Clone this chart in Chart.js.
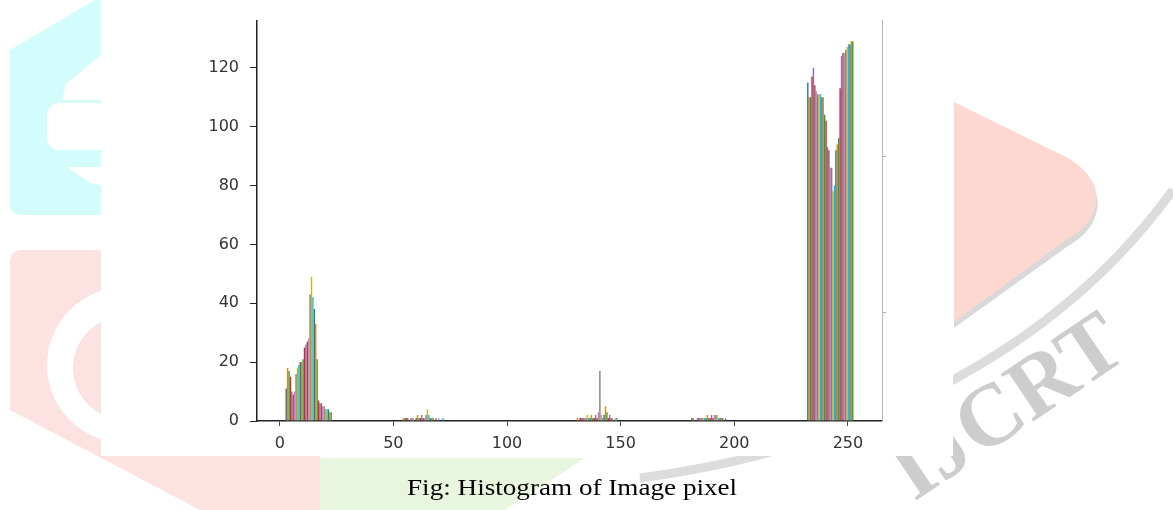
<!DOCTYPE html>
<html>
<head>
<meta charset="utf-8">
<script src="https://cdn.jsdelivr.net/npm/chart.js@4.4.1/dist/chart.umd.min.js"></script>
<style>
  html, body { margin: 0; padding: 0; background: #fff; }
  #wrap { position: relative; width: 1173px; height: 510px; overflow: hidden; }
  #bg, #chart { position: absolute; left: 0; top: 0; }
  #caption {
    position: absolute; left: 407px; top: 476px;
    font-family: "Liberation Serif", serif; font-size: 23px; line-height: 23px;
    color: #000; white-space: nowrap;
    transform: scaleX(1.18); transform-origin: left top;
  }
</style>
</head>
<body>
<div id="wrap">
  <svg id="bg" width="1173" height="510" xmlns="http://www.w3.org/2000/svg">
    <!-- watermark behind the figure -->
    <path d="M10 50 L95 0 L101 0 L101 215 L22 215 Q10 215 10 203 Z" fill="#d3fcfd"/>
    <path d="M101 55 L66 84 L62 100 L101 100 Z" fill="#fff"/>
    <rect x="47" y="103" width="70" height="47" rx="12" fill="#fff"/>
    <path d="M67 167 L101 167 L101 185 L90 183 Z" fill="#fff"/>
    <path d="M10 262 Q10 250 22 250 L320 250 L320 510 L200 510 L10 410 Z" fill="#fde2e2"/>
    <circle cx="125" cy="365" r="78" fill="#fff"/>
    <circle cx="125" cy="368" r="52" fill="#fde2e2"/>
    <path d="M320 458 L585 458 L505 510 L320 510 Z" fill="#e9f6df"/>
    <path d="M954 108 L1070 165 Q1102 185 1097 210 Q1093 232 1068 246 L954 328 Z" fill="#d9d9d9"/>
    <path d="M954 102 L1068 158 Q1100 178 1096 203 Q1092 226 1066 240 L954 322 Z" fill="#fdd8d1"/>
    <path d="M640 478 C 850 450, 1050 360, 1173 190" stroke="#dcdcdc" stroke-width="9" fill="none"/>
    <text transform="translate(914 502) rotate(-34)" font-family="Liberation Serif" font-weight="bold" font-size="88" fill="#cdcdcd">IJCRT</text>
    <rect x="101" y="0" width="852" height="456" fill="#fff"/>
  </svg>
  <canvas id="chart" width="1173" height="510"></canvas>
  <div id="caption">Fig: Histogram of Image pixel</div>
</div>
<script>
const binEdges = [0, 25.5, 51, 76.5, 102, 127.5, 153, 178.5, 204, 229.5, 255];
const xTicks = [0, 50, 100, 150, 200, 250];
const yTicks = [0, 20, 40, 60, 80, 100, 120];
const rightTicks = [37, 90];

// counts per image column (33 columns) for the non-empty bins
const darkCounts = [11, 18, 17, 15, 10, 9, 10, 16, 18, 19, 20, 20, 21, 25, 26, 27, 28, 43, 49, 42, 38, 33, 21, 7, 6, 6, 5, 5, 4, 4, 4, 3, 3];
const lowMidCounts = [0, 1, 1, 1, 1, 0, 1, 1, 1, 0, 1, 2, 1, 1, 2, 1, 1, 2, 4, 2, 1, 1, 1, 0, 1, 0, 1, 0, 0, 1, 0, 0, 0];
const midCounts = [0, 1, 0, 1, 1, 1, 1, 1, 2, 1, 1, 2, 1, 1, 2, 1, 3, 17, 2, 1, 2, 5, 3, 1, 2, 1, 1, 0, 1, 1, 0, 0, 0];
const highMidCounts = [1, 1, 0, 0, 1, 1, 1, 1, 1, 1, 1, 2, 1, 1, 2, 1, 2, 2, 2, 1, 1, 1, 1, 0, 1, 0, 0, 0, 0, 0, 0, 0, 0];
const brightCounts = [115, 110, 110, 117, 120, 114, 112, 111, 111, 111, 110, 110, 104, 102, 93, 92, 86, 86, 78, 80, 92, 94, 96, 113, 124, 125, 125, 126, 127, 128, 128, 129, 129];

const countsByBin = [darkCounts, null, lowMidCounts, null, null, midCounts, null, highMidCounts, null, brightCounts];

const tab10 = ["#1f77b4", "#ff7f0e", "#2ca02c", "#d62728", "#9467bd",
  "#8c564b", "#e377c2", "#7f7f7f", "#bcbd22", "#17becf"];

const binCenters = binEdges.slice(0, -1).map((e, b) => (e + binEdges[b + 1]) / 2);

const datasets = [];
for (let j = 0; j < darkCounts.length; j++) {
  datasets.push({
    data: binCenters.map((c, b) => ({ x: c, y: countsByBin[b] ? countsByBin[b][j] : 0 })),
    backgroundColor: tab10[j % 10],
    borderWidth: 0,
    barPercentage: 1,
    categoryPercentage: 0.8,
  });
}

const tickFont = { family: "DejaVu Sans", size: 16 };

new Chart(document.getElementById("chart"), {
  type: "bar",
  data: { datasets: datasets },
  options: {
    responsive: false,
    animation: false,
    devicePixelRatio: 1,
    layout: { padding: { left: 197, right: 281, top: 16, bottom: 49 } },
    plugins: { legend: { display: false }, tooltip: { enabled: false } },
    scales: {
      x: {
        type: "linear",
        min: -10,
        max: 265,
        offset: false,
        afterBuildTicks: (s) => { s.ticks = xTicks.map((v) => ({ value: v })); },
        afterFit: (s) => { s.height = 40; },
        grid: { drawOnChartArea: false, offset: false, tickLength: 5, color: "#444" },
        border: { color: "#222", width: 1.5 },
        ticks: { font: tickFont, color: "#333", padding: 8, maxRotation: 0, autoSkip: false },
      },
      y: {
        min: 0,
        max: 136,
        afterBuildTicks: (s) => { s.ticks = yTicks.map((v) => ({ value: v })); },
        afterFit: (s) => { s.width = 60; },
        grid: { drawOnChartArea: false, tickLength: 7, color: "#222" },
        border: { color: "#222", width: 1.5 },
        ticks: { font: tickFont, color: "#333", padding: 11 },
      },
      y2: {
        type: "linear",
        position: "right",
        min: 0,
        max: 136,
        afterBuildTicks: (s) => { s.ticks = rightTicks.map((v) => ({ value: v })); },
        afterFit: (s) => { s.width = 10; },
        grid: { drawOnChartArea: false, tickLength: 4, color: "#aaa" },
        border: { color: "#b5b5b5", width: 1 },
        ticks: { display: false },
      },
    },
  },
});
</script>
</body>
</html>
